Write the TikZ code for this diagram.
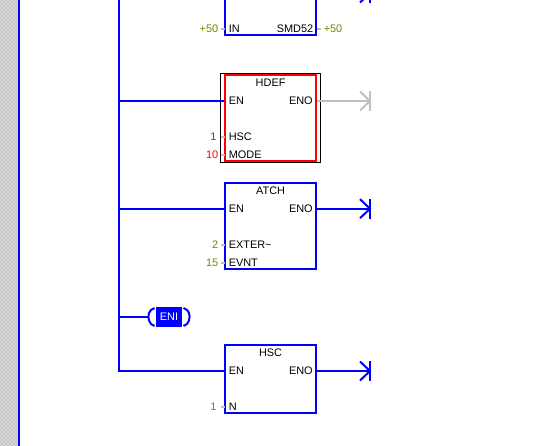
\documentclass[tikz,border=0pt]{standalone}
\usepackage{fontspec}
\setmainfont{Liberation Sans}
\usetikzlibrary{patterns}
\definecolor{plcBlue}{RGB}{0,0,255}
\definecolor{plcRed}{RGB}{255,0,0}
\definecolor{plcOlive}{RGB}{128,128,0}
\definecolor{plcGray}{RGB}{192,192,192}

\begin{document}
\begin{tikzpicture}[
    x=0.75pt, y=-0.75pt,
    % Styles for the function blocks
    block/.style={rectangle, draw=plcBlue, line width=1.5pt, inner sep=0pt, minimum width=68pt},
    blockOff/.style={block, draw=plcRed},
    % Styles for the wires
    wireOn/.style={draw=plcBlue, line width=1.5pt},
    wireOff/.style={draw=plcGray, line width=1.5pt},
    stub/.style={draw=plcGray, line width=1.5pt},
    % Styles for the texts
    txt/.style={inner sep=0pt, font=\fontsize{8.2pt}{8.2pt}\selectfont},
    pinL/.style={txt, anchor=west},
    pinR/.style={txt, anchor=east},
    valOk/.style={txt, anchor=east, text=plcOlive},
    valBad/.style={txt, anchor=east, text=plcRed}
]
    \useasboundingbox (0,0) rectangle (547,446);
    \clip (0,0) rectangle (547,446);

    % --- LEFT STRIP AND RAILS ---
    \fill[plcGray!60] (0,0) rectangle (18,446);
    \fill[pattern=crosshatch dots, pattern color=gray] (0,0) rectangle (18,446);
    \coordinate (railTop) at (19,-2);
    \coordinate (railEnd) at (19,448);
    \draw[wireOn] (railTop) -- (railEnd);

    % --- BLOCKS ---
    \node[block, minimum height=51pt] (smd) at (270.6,1) {};
    \node[draw=black, line width=0.75pt, minimum width=74.6pt, minimum height=66.4pt, inner sep=0pt] (frame) at (270.4,118) {};
    \node[blockOff, minimum height=64.5pt] (hdef) at (270.6,118) {};
    \node[block, minimum height=64.5pt] (atch) at (270.6,226.3) {};
    \node[block, minimum height=50.8pt] (hsc) at (270.6,379) {};

    % Block titles
    \node[txt] (hdefT) at (270.6,82.7) {HDEF};
    \node[txt] (atchT) at (270.6,190.7) {ATCH};
    \node[txt] (hscT)  at (270.6,352.7) {HSC};

    % Pin names
    \node[pinL] (smdIn)   at (228.5,28.7) {IN};
    \node[pinR] (smdOut)  at (313.5,28.7) {SMD52};
    \node[pinL] (hdefEn)  at (228.5,101) {EN};
    \node[pinR] (hdefEno) at (313,101) {ENO};
    \node[pinL] (hdefHsc) at (228.5,136.7) {HSC};
    \node[pinL] (hdefMod) at (228.5,154.7) {MODE};
    \node[pinL] (atchEn)  at (228.5,208.7) {EN};
    \node[pinR] (atchEno) at (313,208.7) {ENO};
    \node[pinL] (atchExt) at (228.5,244.7) {EXTER\textasciitilde};
    \node[pinL] (atchEvt) at (228.5,262.7) {EVNT};
    \node[pinL] (hscEn)   at (228.5,371) {EN};
    \node[pinR] (hscEno)  at (313,371) {ENO};
    \node[pinL] (hscN)    at (228.5,406.7) {N};

    % Values on the pins
    \node[valOk]  (v50a) at (218.5,28.7) {+50};
    \node[txt, anchor=west, text=plcOlive] (v50b) at (323.5,28.7) {+50};
    \node[valBad] (v1)   at (216.8,136.7) {1};
    \node[valBad] (v10)  at (218.5,154.7) {10};
    \node[valOk]  (v2)   at (218.5,244.7) {2};
    \node[valOk]  (v15)  at (218.5,262.7) {15};
    \node[valOk]  (v1b)  at (216.8,406.7) {1};

    % --- STUBS BETWEEN VALUES AND PINS ---
    \foreach \pin in {smdIn, hdefHsc, hdefMod, atchExt, atchEvt, hscN}
        \draw[stub] ([xshift=-6pt]\pin.west) -- ([xshift=-3pt]\pin.west);
    \draw[stub] (smd.east |- v50b) -- ([xshift=-2pt]v50b.west);

    % --- RUNGS ---
    \coordinate (railB) at (119,-2);
    \coordinate (rungA) at (119,101);
    \coordinate (rungB) at (119,208.7);
    \coordinate (rungC) at (119,316.7);
    \coordinate (rungD) at (119,371);
    \draw[wireOn] (railB) -- (rungD) -- (hsc.west |- rungD);
    \draw[wireOn] (rungA) -- (hdef.west |- rungA);
    \draw[wireOn] (rungB) -- (atch.west |- rungB);

    % --- OUTPUTS ---
    \coordinate (endA) at (370,101);
    \coordinate (endB) at (370,208.7);
    \coordinate (endC) at (370,371);
    \coordinate (endD) at (370,-7);
    \draw[wireOff] (hdef.east |- endA) -- (endA);
    \draw[wireOn] (atch.east |- endB) -- (endB);
    \draw[wireOn] (hsc.east |- endC) -- (endC);
    \foreach \tip/\sty in {endA/wireOff, endB/wireOn, endC/wireOn, endD/wireOn} {
        \draw[\sty] ([shift={(0,-10)}]\tip) -- ([shift={(0,10)}]\tip);
        \draw[\sty] ([shift={(-10,-9.5)}]\tip) -- (\tip) -- ([shift={(-10,9.5)}]\tip);
    }

    % --- ENI INSTRUCTION ---
    \node[fill=plcBlue, text=white, inner sep=0pt, minimum width=19.5pt, minimum height=15pt, font=\fontsize{8.2pt}{8.2pt}\selectfont] (eni) at (169,317) {ENI};
    \coordinate (eniL) at (148,316.7);
    \draw[wireOn] (rungC) -- (eniL);
    \draw[wireOn] (154.5,308) -- (151,310) .. controls (147.5,313) and (147.5,320) .. (151,324) -- (154.5,326);
    \draw[wireOn] (183.5,308) -- (187,310) .. controls (190.5,313) and (190.5,320) .. (187,324) -- (183.5,326);

\end{tikzpicture}
\end{document}
